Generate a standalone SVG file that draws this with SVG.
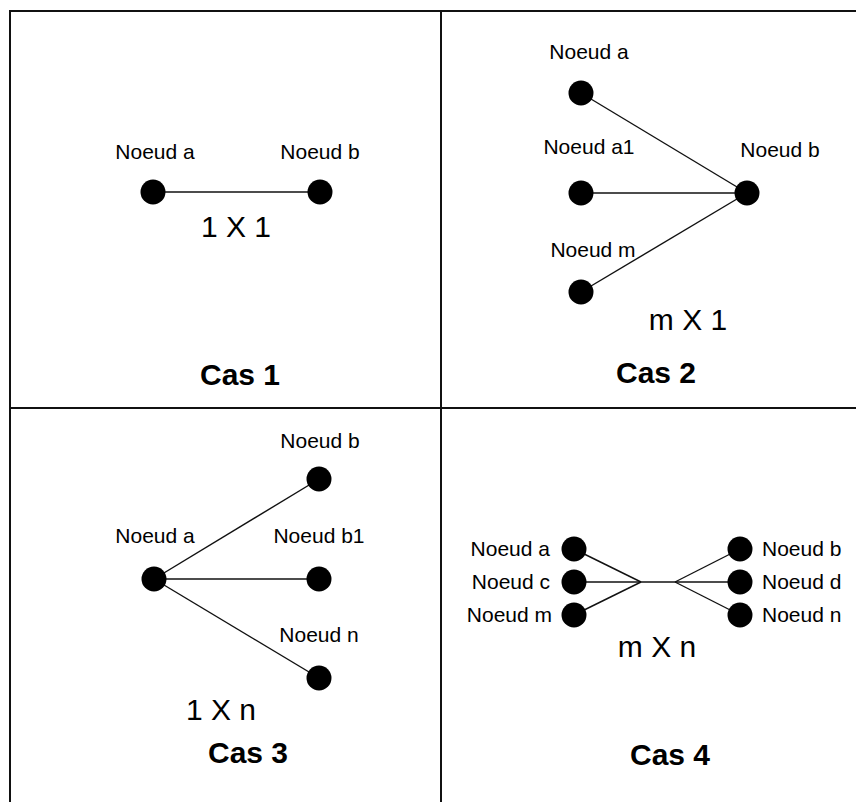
<svg xmlns="http://www.w3.org/2000/svg" width="856" height="802" viewBox="0 0 856 802">
  <style>
    .frame { stroke: #111; stroke-width: 2; fill: none; }
    .edge { stroke: #111; stroke-width: 1.4; fill: none; }
    .dot { fill: #000; }
    text { font-family: "Liberation Sans", Arial, sans-serif; fill: #000; }
    .lbl { font-size: 21px; text-anchor: middle; }
    .lbl-l { font-size: 21px; text-anchor: end; }
    .lbl-r { font-size: 21px; text-anchor: start; }
    .mult { font-size: 30px; text-anchor: middle; }
    .case { font-size: 30px; font-weight: bold; text-anchor: middle; }
  </style>
  <rect width="856" height="802" fill="#fff"/>

  <!-- grid of the four cases -->
  <g id="frame">
    <line class="frame" x1="10" y1="11" x2="856" y2="11"/>
    <line class="frame" x1="10" y1="408" x2="856" y2="408"/>
    <line class="frame" x1="10" y1="10" x2="10" y2="802"/>
    <line class="frame" x1="441" y1="10" x2="441" y2="802"/>
  </g>

  <!-- connectors -->
  <g id="connectors">
    <!-- case 1 -->
    <line class="edge" x1="153" y1="192" x2="320" y2="192"/>
    <!-- case 2 -->
    <line class="edge" x1="581" y1="93" x2="747" y2="193"/>
    <line class="edge" x1="581" y1="193" x2="747" y2="193"/>
    <line class="edge" x1="581" y1="292" x2="747" y2="193"/>
    <!-- case 3 -->
    <line class="edge" x1="154" y1="579" x2="319" y2="479"/>
    <line class="edge" x1="154" y1="579" x2="319" y2="579"/>
    <line class="edge" x1="154" y1="579" x2="319" y2="678"/>
    <!-- case 4 -->
    <line class="edge" x1="574" y1="549" x2="641" y2="582"/>
    <line class="edge" x1="574" y1="582" x2="641" y2="582"/>
    <line class="edge" x1="574" y1="615" x2="641" y2="582"/>
    <line class="edge" x1="641" y1="582" x2="675" y2="582"/>
    <line class="edge" x1="675" y1="582" x2="740" y2="549"/>
    <line class="edge" x1="675" y1="582" x2="740" y2="582"/>
    <line class="edge" x1="675" y1="582" x2="740" y2="615"/>
  </g>

  <!-- case 1 : 1 X 1 -->
  <g id="c1-a"><circle class="dot" cx="153" cy="192" r="12.5"/><text class="lbl" x="155" y="159">Noeud a</text></g>
  <g id="c1-b"><circle class="dot" cx="320" cy="192" r="12.5"/><text class="lbl" x="320" y="159">Noeud b</text></g>
  <g id="c1-title">
    <text class="mult" x="236" y="237">1 X 1</text>
    <text class="case" x="240" y="385">Cas 1</text>
  </g>

  <!-- case 2 : m X 1 -->
  <g id="c2-a"><circle class="dot" cx="581" cy="93" r="12.5"/><text class="lbl" x="589" y="59">Noeud a</text></g>
  <g id="c2-a1"><circle class="dot" cx="581" cy="193" r="12.5"/><text class="lbl" x="589" y="154">Noeud a1</text></g>
  <g id="c2-m"><circle class="dot" cx="581" cy="292" r="12.5"/><text class="lbl" x="593" y="257">Noeud m</text></g>
  <g id="c2-b"><circle class="dot" cx="747" cy="193" r="12.5"/><text class="lbl" x="780" y="157">Noeud b</text></g>
  <g id="c2-title">
    <text class="mult" x="688" y="330">m X 1</text>
    <text class="case" x="656" y="383">Cas 2</text>
  </g>

  <!-- case 3 : 1 X n -->
  <g id="c3-a"><circle class="dot" cx="154" cy="579" r="12.5"/><text class="lbl" x="155" y="543">Noeud a</text></g>
  <g id="c3-b"><circle class="dot" cx="319" cy="479" r="12.5"/><text class="lbl" x="320" y="448">Noeud b</text></g>
  <g id="c3-b1"><circle class="dot" cx="319" cy="579" r="12.5"/><text class="lbl" x="319" y="543">Noeud b1</text></g>
  <g id="c3-n"><circle class="dot" cx="319" cy="678" r="12.5"/><text class="lbl" x="319" y="642">Noeud n</text></g>
  <g id="c3-title">
    <text class="mult" x="221" y="720">1 X n</text>
    <text class="case" x="248" y="763">Cas 3</text>
  </g>

  <!-- case 4 : m X n -->
  <g id="c4-a"><circle class="dot" cx="574" cy="549" r="12.5"/><text class="lbl-l" x="550" y="556">Noeud a</text></g>
  <g id="c4-c"><circle class="dot" cx="574" cy="582" r="12.5"/><text class="lbl-l" x="550" y="589">Noeud c</text></g>
  <g id="c4-m"><circle class="dot" cx="574" cy="615" r="12.5"/><text class="lbl-l" x="552" y="622">Noeud m</text></g>
  <g id="c4-b"><circle class="dot" cx="740" cy="549" r="12.5"/><text class="lbl-r" x="762" y="556">Noeud b</text></g>
  <g id="c4-d"><circle class="dot" cx="740" cy="582" r="12.5"/><text class="lbl-r" x="762" y="589">Noeud d</text></g>
  <g id="c4-n"><circle class="dot" cx="740" cy="615" r="12.5"/><text class="lbl-r" x="762" y="622">Noeud n</text></g>
  <g id="c4-title">
    <text class="mult" x="657" y="657">m X n</text>
    <text class="case" x="670" y="765">Cas 4</text>
  </g>
</svg>
